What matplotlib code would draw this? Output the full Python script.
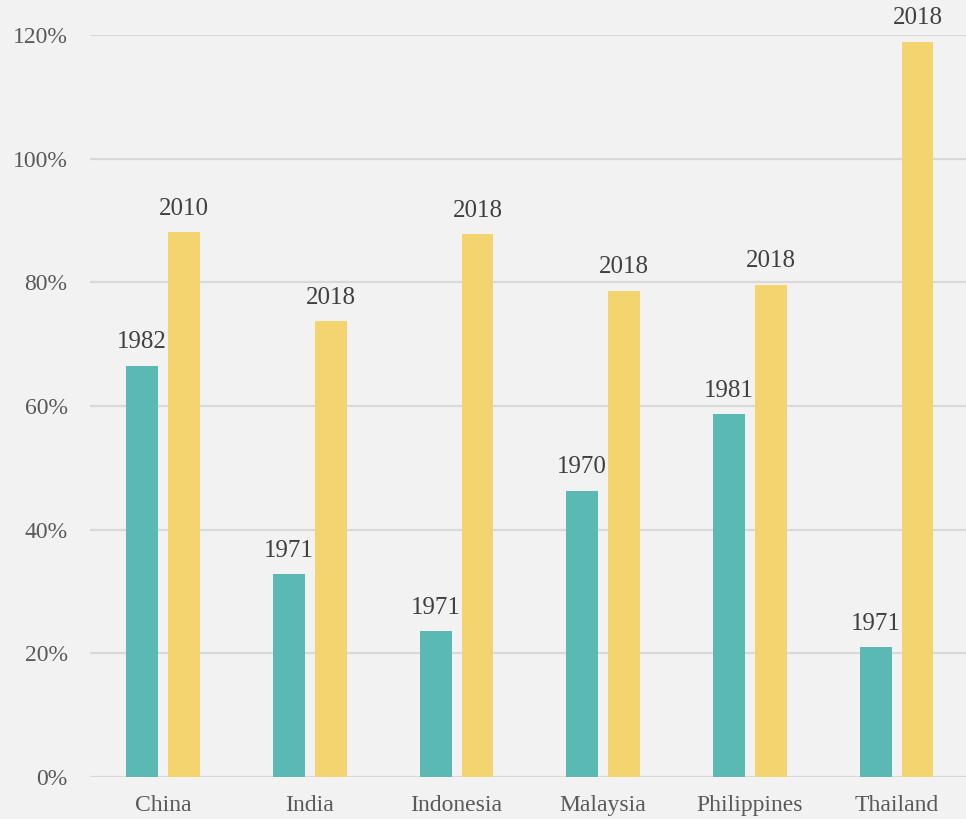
import numpy as np
import matplotlib.pyplot as plt

countries = ["China", "India", "Indonesia", "Malaysia", "Philippines", "Thailand"]
early_years = ["1982", "1971", "1971", "1970", "1981", "1971"]
late_years = ["2010", "2018", "2018", "2018", "2018", "2018"]
early_vals = [66.5, 32.8, 23.6, 46.3, 58.7, 21.0]
late_vals = [88.1, 73.7, 87.8, 78.6, 79.6, 118.9]

plt.rcParams['font.family'] = ['Liberation Serif', 'DejaVu Serif']

bg = '#f2f2f2'
fig = plt.figure(figsize=(9.66, 8.19), dpi=100, facecolor=bg)
ax = fig.add_axes([0.093, 0.0513, 0.911, 0.906])
ax.set_facecolor(bg)

x = np.arange(len(countries))
w = 0.218
off = 0.143
b1 = ax.bar(x - off, early_vals, w, color='#5bb9b4', zorder=3)
b2 = ax.bar(x + off, late_vals, w, color='#f4d46e', zorder=3)

# year labels above each bar
for bars, labels in ((b1, early_years), (b2, late_years)):
    for r, lab in zip(bars, labels):
        ax.annotate(lab, (r.get_x() + r.get_width() / 2, r.get_height()),
                    xytext=(0, 9), textcoords='offset points',
                    ha='center', va='bottom', fontsize=18, color='#404040',
                    annotation_clip=False)

ax.set_xlim(-0.5, 5.5)
ax.set_ylim(0, 120)
ax.set_yticks(np.arange(0, 121, 20))
ax.set_yticklabels([f"{v}%" for v in range(0, 121, 20)])
ax.set_xticks(x)
ax.set_xticklabels(countries)
ax.tick_params(length=0, labelsize=17, colors='#595959')
ax.tick_params(axis='x', pad=13)
ax.tick_params(axis='y', pad=16)
ax.grid(axis='y', color='#d9d9d9', linewidth=1.6, zorder=0)
ax.set_axisbelow(True)
for s in ax.spines.values():
    s.set_visible(False)

fig.savefig('out.png', facecolor=bg)
